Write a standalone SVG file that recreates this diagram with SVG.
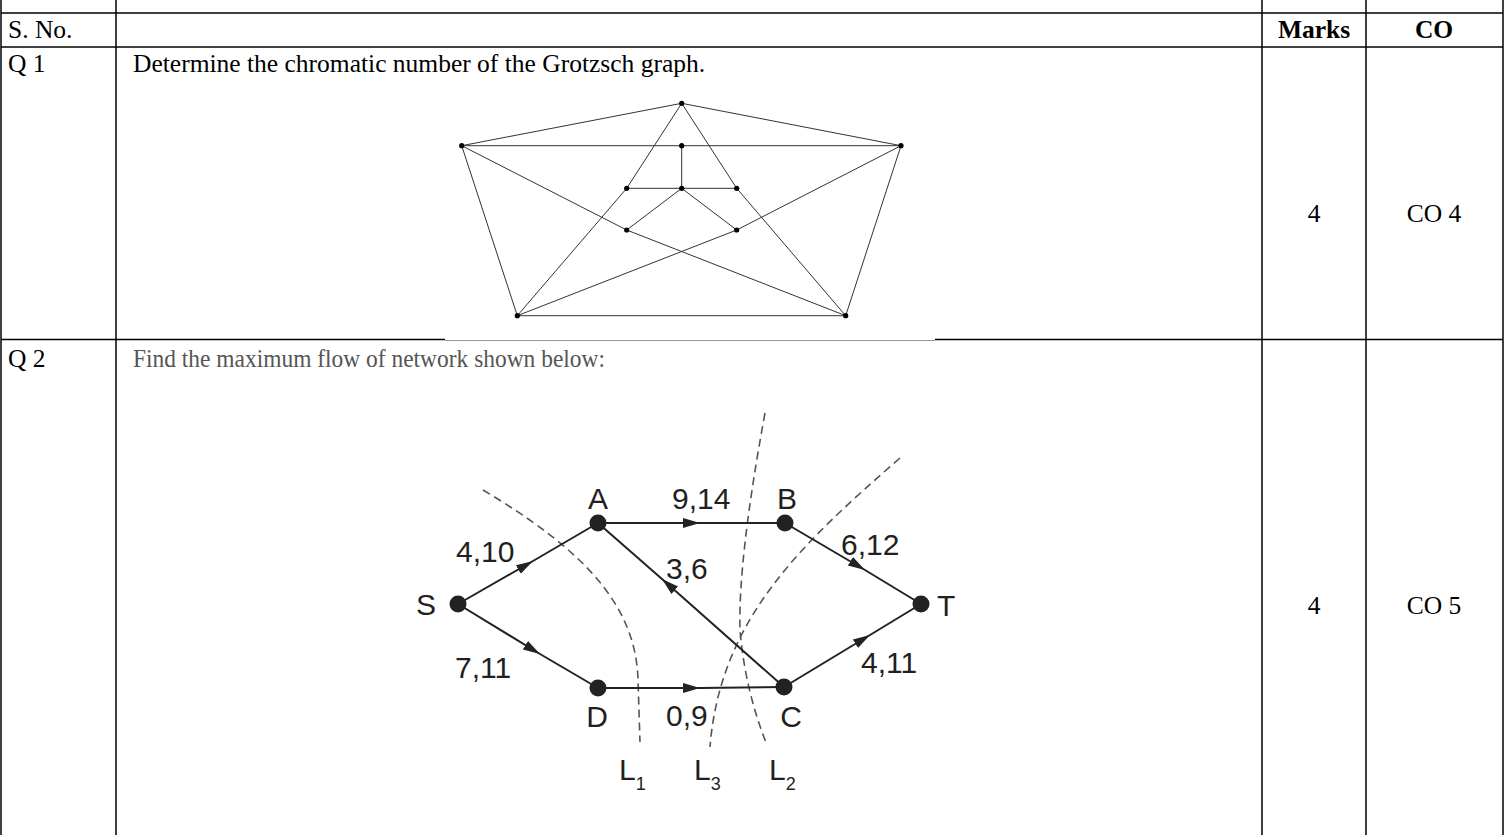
<svg xmlns="http://www.w3.org/2000/svg" width="1506" height="835" viewBox="0 0 1506 835">
<style>
.tl{stroke:#000;stroke-width:1.5;fill:none}
.tt{font-family:"Liberation Serif","Times New Roman",serif;font-size:25.5px;fill:#000}
.b{font-weight:bold}
.c{text-anchor:middle}
.ge{stroke:#333;stroke-width:1;fill:none}
.gn{fill:#000}
.ne{stroke:#222;stroke-width:2;fill:none;marker-mid:url(#ar)}
.nn{fill:#222}
.nl{font-family:"Liberation Sans",Arial,sans-serif;font-size:30px;fill:#231f20}
.sub{font-size:18px}
.cut{stroke:#555;stroke-width:1.6;fill:none;stroke-dasharray:8 5}
</style>
<defs>
<marker id="ar" markerUnits="userSpaceOnUse" markerWidth="18" markerHeight="12" refX="17" refY="5" orient="auto">
<path d="M0,0 L17,5 L0,10 z" fill="#222"/>
</marker>
</defs>
<rect width="1506" height="835" fill="#fff"/>
<g id="table">
<line class="tl" x1="1" y1="0" x2="1" y2="835"/>
<line class="tl" x1="116" y1="0" x2="116" y2="835"/>
<line class="tl" x1="1262" y1="0" x2="1262" y2="835"/>
<line class="tl" x1="1366" y1="0" x2="1366" y2="835"/>
<line class="tl" x1="1503" y1="0" x2="1503" y2="835"/>
<line class="tl" x1="1" y1="13" x2="1503" y2="13"/>
<line class="tl" x1="1" y1="47" x2="1503" y2="47"/>
<line class="tl" x1="1" y1="339.5" x2="445" y2="339.5"/>
<line x1="445" y1="340.5" x2="935" y2="340.5" stroke="#999" stroke-width="1.2"/>
<line class="tl" x1="935" y1="339.5" x2="1503" y2="339.5"/>
<text class="tt" x="8" y="38">S. No.</text>
<text class="tt b c" x="1314" y="38">Marks</text>
<text class="tt b c" x="1434" y="38">CO</text>
<text class="tt" x="8" y="72">Q 1</text>
<text class="tt" x="133" y="72">Determine the chromatic number of the Grotzsch graph.</text>
<text class="tt c" x="1314" y="222">4</text>
<text class="tt c" x="1434" y="222">CO 4</text>
<text class="tt" x="8" y="367">Q 2</text>
<text class="tt" x="133" y="367" style="fill:#555;font-size:26px" textLength="472" lengthAdjust="spacingAndGlyphs">Find the maximum flow of network shown below:</text>
<text class="tt c" x="1314" y="614">4</text>
<text class="tt c" x="1434" y="614">CO 5</text>
</g>
<g id="grotzsch-edges">
<path class="ge" d="M681.7,103.3 L461.7,145.7 M681.7,103.3 L901,145.7 M461.7,145.7 L517.3,315.7 M901,145.7 L845.7,315.7 M517.3,315.7 L845.7,315.7"/>
<path class="ge" d="M461.7,145.7 L901,145.7"/>
<path class="ge" d="M681.7,103.3 L626.7,188.3 L517.3,315.7 M681.7,103.3 L736.7,188.3 L845.7,315.7"/>
<path class="ge" d="M461.7,145.7 L626.7,230 L845.7,315.7 M901,145.7 L736.7,230 L517.3,315.7"/>
<path class="ge" d="M681.7,188.3 L681.7,145.7 M626.7,188.3 L736.7,188.3 M681.7,188.3 L626.7,230 M681.7,188.3 L736.7,230"/>
</g>
<g id="g-top"><circle class="gn" cx="681.7" cy="103.3" r="2.6"/></g>
<g id="g-ul"><circle class="gn" cx="461.7" cy="145.7" r="2.6"/></g>
<g id="g-ur"><circle class="gn" cx="901" cy="145.7" r="2.6"/></g>
<g id="g-bl"><circle class="gn" cx="517.3" cy="315.7" r="2.6"/></g>
<g id="g-br"><circle class="gn" cx="845.7" cy="315.7" r="2.6"/></g>
<g id="g-u1"><circle class="gn" cx="681.7" cy="145.7" r="2.6"/></g>
<g id="g-u2"><circle class="gn" cx="626.7" cy="188.3" r="2.6"/></g>
<g id="g-w"><circle class="gn" cx="681.7" cy="188.3" r="2.6"/></g>
<g id="g-u3"><circle class="gn" cx="736.7" cy="188.3" r="2.6"/></g>
<g id="g-u4"><circle class="gn" cx="626.7" cy="230" r="2.6"/></g>
<g id="g-u5"><circle class="gn" cx="736.7" cy="230" r="2.6"/></g>
<g id="cuts">
<path class="cut" d="M483,490 C575,545 636,600 638,680 L640,742"/>
<path class="cut" d="M765,413 Q738,560 740,630 Q745,690 767,745"/>
<path class="cut" d="M900,458 C800,545 720,620 710,747"/>
<text class="nl" x="619" y="780">L<tspan class="sub" dy="10">1</tspan></text>
<text class="nl" x="694" y="780">L<tspan class="sub" dy="10">3</tspan></text>
<text class="nl" x="769" y="780">L<tspan class="sub" dy="10">2</tspan></text>
</g>
<g id="network-edges">
<path class="ne" d="M458,604 L533,561 L598,523"/>
<path class="ne" d="M458,604 L540,654 L598,688"/>
<path class="ne" d="M598,523 L700,523 L785,523"/>
<path class="ne" d="M784,687 L662,579 L598,523"/>
<path class="ne" d="M785,523 L865,570 L921,604"/>
<path class="ne" d="M784,687 L870,635 L921,604"/>
<path class="ne" d="M598,688 L700,688 L784,687"/>
<text class="nl" x="456" y="562">4,10</text>
<text class="nl" x="672" y="509">9,14</text>
<text class="nl" x="666" y="579">3,6</text>
<text class="nl" x="841" y="555">6,12</text>
<text class="nl" x="455" y="678">7,11</text>
<text class="nl" x="861" y="673">4,11</text>
<text class="nl" x="666" y="726">0,9</text>
</g>
<g id="n-S"><circle class="nn" cx="458" cy="604" r="8.5"/><text class="nl" x="416" y="615">S</text></g>
<g id="n-A"><circle class="nn" cx="598" cy="523" r="8.5"/><text class="nl c" x="598" y="509">A</text></g>
<g id="n-B"><circle class="nn" cx="785" cy="523" r="8.5"/><text class="nl" x="777" y="509">B</text></g>
<g id="n-T"><circle class="nn" cx="921" cy="604" r="8.5"/><text class="nl" x="937" y="616">T</text></g>
<g id="n-D"><circle class="nn" cx="598" cy="688" r="8.5"/><text class="nl c" x="597" y="727">D</text></g>
<g id="n-C"><circle class="nn" cx="784" cy="687" r="8.5"/><text class="nl c" x="791" y="727">C</text></g>
</svg>
